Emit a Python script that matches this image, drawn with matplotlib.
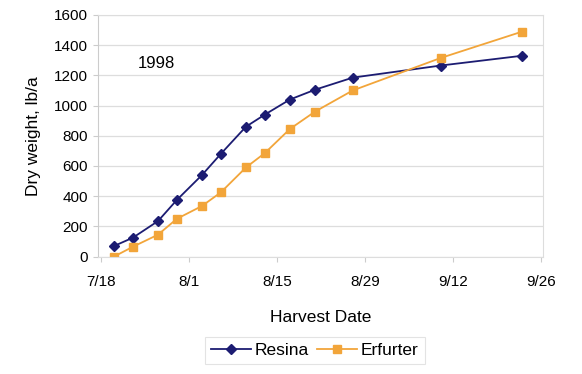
import datetime as dt
import matplotlib
matplotlib.use("Agg")
import matplotlib.pyplot as plt
import matplotlib.dates as mdates

plt.rcParams['font.family'] = ['Liberation Sans', 'DejaVu Sans']

# harvest dates (1998) and dry weight, lb/a
harvest_dates = ["7/20", "7/23", "7/27", "7/30", "8/3", "8/6", "8/10",
                 "8/13", "8/17", "8/21", "8/27", "9/10", "9/23"]
resina = [70, 125, 235, 375, 540, 680, 860, 940, 1040, 1105, 1185, 1265, 1330]
erfurter = [0, 65, 145, 250, 335, 425, 590, 685, 845, 960, 1100, 1315, 1490]

tick_dates = ["7/18", "8/1", "8/15", "8/29", "9/12", "9/26"]
y_ticks = [0, 200, 400, 600, 800, 1000, 1200, 1400, 1600]


def to_date(s):
    m, d = s.split("/")
    return dt.date(1998, int(m), int(d))


x = [to_date(s) for s in harvest_dates]
xt = [to_date(s) for s in tick_dates]

fig = plt.figure(figsize=(5.82, 3.74), dpi=100)
ax = fig.add_axes([0.169, 0.314, 0.764, 0.646])

ax.plot(x, resina, color='#1c1c72', marker='D', markersize=5, linewidth=1.3,
        label='Resina')
ax.plot(x, erfurter, color='#f2a53a', marker='s', markersize=5.5, linewidth=1.3,
        label='Erfurter')

ax.set_xlim(mdates.date2num(xt[0]) - 0.5, mdates.date2num(xt[-1]) + 0.3)
ax.set_ylim(0, 1600)
ax.set_xticks(xt)
ax.set_xticklabels(tick_dates)
ax.set_yticks(y_ticks)
ax.yaxis.grid(True, color='#dddddd', linewidth=0.9)
ax.set_axisbelow(True)

for side in ['top', 'right', 'bottom']:
    ax.spines[side].set_color('#dddddd')
ax.spines['left'].set_color('#cccccc')
ax.tick_params(axis='both', labelsize=11, color='#cccccc', length=3.5)
ax.tick_params(axis='y', pad=4)
ax.tick_params(axis='x', pad=10)

ax.set_xlabel('Harvest Date', fontsize=12.5, labelpad=15)
ax.set_ylabel('Dry weight, lb/a', fontsize=12.5, labelpad=9)
ax.text(0.089, 0.80, '1998', transform=ax.transAxes, fontsize=12, va='center')

leg = fig.legend(loc='center', bbox_to_anchor=(0.541, 0.062), ncol=2,
                 fontsize=12.5, frameon=True, fancybox=False,
                 handlelength=2.3, handletextpad=0.2, columnspacing=0.5,
                 borderpad=0.35)
leg.get_frame().set_edgecolor('#dddddd')
leg.get_frame().set_linewidth(0.8)

fig.savefig('out.png', dpi=100)
